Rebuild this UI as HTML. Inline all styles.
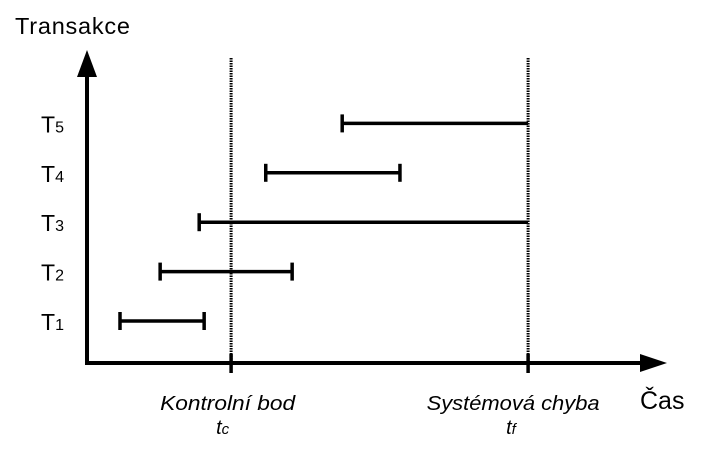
<!DOCTYPE html>
<html><head><meta charset="utf-8"><style>
html,body{margin:0;padding:0;background:#fff;}
svg{display:block;font-family:"Liberation Sans",sans-serif;}
</style></head><body>
<svg id="chart" width="704" height="455" viewBox="0 0 704 455">
<text x="15" y="34" font-size="23.5" fill="#000" textLength="115">Transakce</text>
<text x="640" y="409" font-size="25" fill="#000">Čas</text>
<g id="marks"></g>
</svg>
<script>
const categories = ["1","2","3","4","5"];
const startTimes = [6, 13.3, 20.4, 32.5, 46.4];
const endTimes = [21.3, 37.3, 80.2, 56.9, 80.2];
const endCaps = [true, true, false, true, false];
const markerTimes = [26.2, 80.2];
const markerLabels = ["Kontrolní bod", "Systémová chyba"];
const markerSubs = ["c", "f"];
const labelWidths = [135, 173];
const labelShift = [-3.5, -15];
const symShift = [-15, -22];

const NS = "http://www.w3.org/2000/svg";
const svg = document.getElementById('marks');
const x = v => 87 + v * 5.5;
const y = i => 321 - i * 49.4;
function mk(tag, attrs, parent){ const e=document.createElementNS(NS,tag); for(const k in attrs) e.setAttribute(k,attrs[k]); (parent||svg).appendChild(e); return e; }

markerTimes.forEach((t,i)=>{
  const l = mk('line',{x1:x(t),x2:x(t),y1:58,y2:363,stroke:'#000','stroke-width':3,'stroke-dasharray':'1.5 1'});
  
  
  const tk = mk('line',{x1:x(t),x2:x(t),y1:354,y2:373,stroke:'#000','stroke-width':3.5});
  
  
  const tx = mk('text',{x:x(t)+labelShift[i],y:410,'font-size':20,'font-style':'italic','text-anchor':'middle',fill:'#000',textLength:labelWidths[i],lengthAdjust:'spacingAndGlyphs'});
  tx.textContent = markerLabels[i];
  
  
  const ts = mk('text',{x:x(t)+symShift[i],y:434,'font-size':20,'font-style':'italic',fill:'#000'});
  ts.textContent = 't';
  const sub = mk('tspan',{'font-size':15},ts);
  sub.textContent = markerSubs[i];
  
  
});

const ya = mk('line',{x1:87,x2:87,y1:75,y2:365,stroke:'#000','stroke-width':4});


const yh = mk('polygon',{points:'87,50 77,77 97,77',fill:'#000'});


const xa = mk('line',{x1:85,x2:642,y1:363,y2:363,stroke:'#000','stroke-width':4});


const xh = mk('polygon',{points:'667,363 640,354 640,372',fill:'#000'});



categories.forEach((c,i)=>{
  const yy = y(i);
  const lab = mk('text',{x:41,y:yy+9,'font-size':23,fill:'#000'});
  lab.textContent='T';
  const s = mk('tspan',{'font-size':16},lab);
  s.textContent=c;
  
  
  const g = mk('g',{});
  
  
  mk('line',{x1:x(startTimes[i]),x2:x(endTimes[i]),y1:yy,y2:yy,stroke:'#000','stroke-width':3.5},g);
  mk('line',{x1:x(startTimes[i]),x2:x(startTimes[i]),y1:yy-9,y2:yy+9,stroke:'#000','stroke-width':3.5},g);
  if(endCaps[i]) mk('line',{x1:x(endTimes[i]),x2:x(endTimes[i]),y1:yy-9,y2:yy+9,stroke:'#000','stroke-width':3.5},g);
});
</script>
</body></html>
